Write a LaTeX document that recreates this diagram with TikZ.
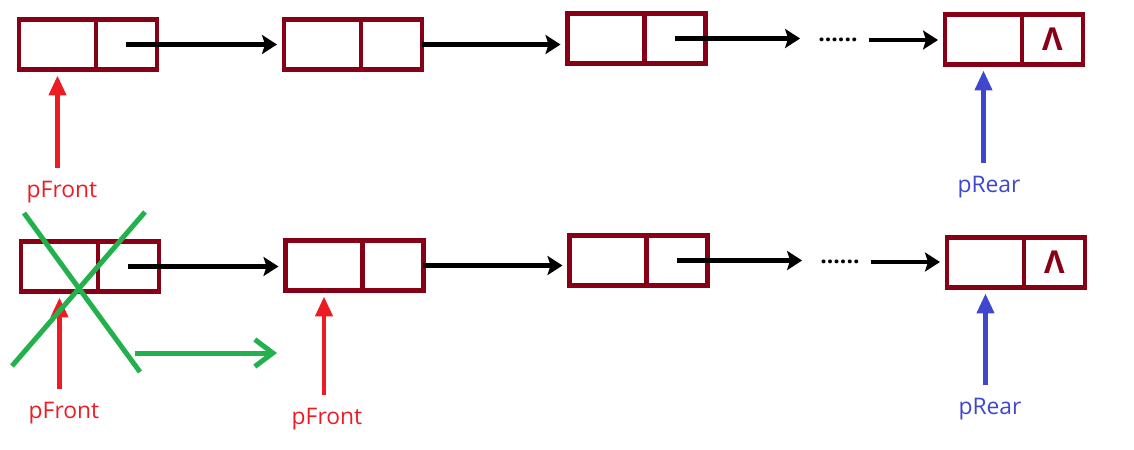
\documentclass[tikz,border=0pt]{standalone}
\usepackage{fontspec}
\setmainfont{Open Sans}
\usetikzlibrary{arrows.meta}
\usetikzlibrary{positioning}
\definecolor{nodered}{RGB}{136,0,21}
\definecolor{paintred}{RGB}{237,28,36}
\definecolor{paintblue}{RGB}{63,72,204}
\definecolor{paintgreen}{RGB}{34,177,76}
\tikzset{
    datafield/.style={
        draw=nodered,
        line width=0.95mm,
        minimum width=1.54cm,
        minimum height=1.0cm,
        inner sep=0pt,
        outer sep=0pt
    },
    nextfield/.style={
        datafield,
        minimum width=1.22cm,
        text=nodered,
        font=\fontsize{18}{20}\selectfont\bfseries
    },
    nextptr/.style={
        draw,
        line width=0.95mm,
        -{Stealth[length=3mm, width=3.8mm, inset=0.6mm]},
        shorten >=1.4mm
    },
    frontptr/.style={
        draw=paintred,
        line width=0.9mm,
        -{Triangle[length=4mm, width=3.4mm]},
        shorten >=1.2mm,
        shorten <=2.2mm
    },
    rearptr/.style={frontptr, draw=paintblue},
    ptrlabel/.style={font=\fontsize{13}{15}\selectfont, inner sep=1pt},
    dotsgap/.style={font=\fontsize{13}{15}\selectfont\bfseries, inner xsep=2.2mm, inner ysep=0pt},
    strike/.style={draw=paintgreen, line width=1mm},
    moveptr/.style={
        draw=paintgreen,
        line width=1mm,
        -{Straight Barb[length=3.6mm, width=5.4mm, line width=1mm]}
    }
}

\begin{document}
\begin{tikzpicture}[x=0.02cm, y=-0.02cm]
    \useasboundingbox (0,0) rectangle (1134,450);

    % queue before the dequeue
    \node[datafield] (t1d) at (57.5,44.5) {};
    \node[nextfield, right=0pt of t1d] (t1n) {};
    \node[datafield] (t2d) at (322.5,44.5) {};
    \node[nextfield, right=0pt of t2d] (t2n) {};
    \node[datafield] (t3d) at (606,38.5) {};
    \node[nextfield, right=0pt of t3d] (t3n) {};
    \node[dotsgap] (tdots) at (838,40) {......};
    \node[datafield] (t4d) at (983.5,39.5) {};
    \node[nextfield, right=0pt of t4d] (t4n) {Λ};

    \draw[nextptr] (t1n.center) -- (t2d.west);
    \draw[nextptr] (t2n.east) -- (t3d.west |- t2n.east);
    \draw[nextptr] (t3n.center) -- (tdots.west |- t3n.center);
    \draw[nextptr] (tdots.east) -- (t4d.west |- tdots.east);

    \node[ptrlabel, text=paintred] (tfront) at (62,192) {pFront};
    \node[ptrlabel, text=paintblue] (trear) at (989,187) {pRear};
    \draw[frontptr] (tfront.north -| t1d.south) -- (t1d.south);
    \draw[rearptr] (trear.north -| t4d.south) -- (t4d.south);

    % queue after the dequeue
    \node[datafield] (b1d) at (59.5,266.5) {};
    \node[nextfield, right=0pt of b1d] (b1n) {};
    \node[datafield] (b2d) at (324,265.5) {};
    \node[nextfield, right=0pt of b2d] (b2n) {};
    \node[datafield] (b3d) at (608,260.5) {};
    \node[nextfield, right=0pt of b3d] (b3n) {};
    \node[dotsgap] (bdots) at (840,262) {......};
    \node[datafield] (b4d) at (985.5,262.5) {};
    \node[nextfield, right=0pt of b4d] (b4n) {Λ};

    \draw[nextptr] (b1n.center) -- (b2d.west |- b1n.center);
    \draw[nextptr] (b2n.east) -- (b3d.west |- b2n.east);
    \draw[nextptr] (b3n.center) -- (bdots.west |- b3n.center);
    \draw[nextptr] (bdots.east) -- (b4d.west |- bdots.east);

    \node[ptrlabel, text=paintred] (bfront) at (64,413) {pFront};
    \node[ptrlabel, text=paintred] (nfront) at (327,419) {pFront};
    \node[ptrlabel, text=paintblue] (brear) at (990,409) {pRear};
    \draw[frontptr] (bfront.north -| b1d.south) -- (b1d.south);
    \draw[frontptr] (nfront.north -| b2d.south) -- (b2d.south);
    \draw[rearptr] (brear.north -| b4d.south) -- (b4d.south);

    % old front is crossed out and moves on
    \draw[strike] (24,213) -- (140,372);
    \draw[strike] (145,212) -- (12,366);
    \coordinate (gs) at (135,353);
    \coordinate (ge) at (277,353);
    \draw[moveptr] (gs) -- (ge);
\end{tikzpicture}
\end{document}
